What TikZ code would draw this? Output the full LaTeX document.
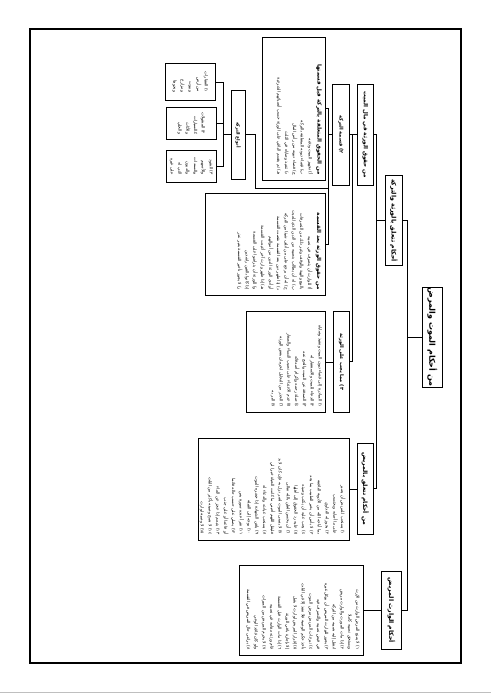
\documentclass[tikz,border=0pt]{standalone}
\usepackage{fontspec}
\newfontfamily\arabicfont[Script=Arabic]{DejaVu Sans}
\TeXXeTstate=1
\newcommand{\AR}[1]{\beginR#1\endR}
\newcommand{\btf}{\bfseries\fontsize{5.5}{7.8}\selectfont}
\tikzset{
  frame/.style={draw, line width=0.9pt, rotate=-90, inner sep=0pt},
  ttl/.style={font=\arabicfont\bfseries\fontsize{#1}{#1}\selectfont, align=center},
  body/.style={rotate=-90, anchor=north east, inner xsep=6pt, inner ysep=4pt,
    align=right, font=\arabicfont\fontsize{4.2}{7.8}\selectfont},
  leaf/.style={align=right, font=\arabicfont\fontsize{4.2}{7.8}\selectfont},
  conn/.style={line width=0.9pt},
}
\begin{document}
\begin{tikzpicture}[x=1pt,y=-1pt]
\useasboundingbox (0,0) rectangle (491,694);
\draw[line width=1.2pt] (30,29) rectangle (461,663);
\draw[black!25, line width=0.8pt] (0,692.5) -- (491,692.5);

% title boxes
\node[frame, ttl=8, minimum width=100.3pt, minimum height=20pt] (R) at (432.3,337.15) {\AR{من أحكام الموت والمرض}};
\node[frame, ttl=6.2, minimum width=89.3pt, minimum height=16.6pt] (G) at (394,220.35) {\AR{أحكام تتعلق بالورثة والتركة}};
\node[frame, ttl=5.6, minimum width=101.3pt, minimum height=15.8pt] (E) at (365.4,134.65) {\AR{من حقوق الورثة في مال الميت}};
\node[frame, ttl=5, minimum width=101.3pt, minimum height=16.6pt] (B) at (341,134.65) {\AR{٢) قسمة التركة}};
\node[frame, ttl=4.5, minimum width=88.3pt, minimum height=13.3pt] (M) at (238.35,134.85) {\AR{أنواع التركة}};
\node[frame, ttl=5, minimum width=101.7pt, minimum height=16pt] (D) at (341.3,361.85) {\AR{٣) مما يجب على الورثة}};
\node[frame, ttl=6, minimum width=91pt, minimum height=16pt] (J) at (365.3,488.8) {\AR{من أحكام تتعلق بالمريض}};
\node[frame, ttl=6.2, minimum width=77.3pt, minimum height=20.7pt] (H) at (391.35,610.35) {\AR{أحكام الوارث المريض}};

% leaf boxes
\node[frame, leaf, minimum width=37.4pt, minimum height=50.7pt] (L1) at (190.35,82) {\AR{١) العقارات}\\\AR{من أرض}\\\AR{وبيوت}\\\AR{ومزارع}\\\AR{ونحوها}};
\node[frame, leaf, minimum width=31.7pt, minimum height=50.7pt] (L2) at (191.35,123.15) {\AR{٢) المنقولات}\\\AR{كالسيارات}\\\AR{والأثاث}\\\AR{والحلي}};
\node[frame, leaf, minimum width=32.7pt, minimum height=50.7pt] (L3) at (191.35,166.35) {\AR{٣) النقود}\\\AR{والأسهم}\\\AR{والسندات}\\\AR{والديون}\\\AR{التي له}\\\AR{على غيره}};

% text boxes
\node[frame, minimum width=143.2pt, minimum height=62.8pt] (A) at (294.1,108.9) {};
\node[body] (At) at (A.north east) {{\btf\AR{من الحقوق المتعلقة بالتركة قبل قسمتها}}\\[1pt]
\AR{أ) تجهيز الميت ودفنه}\\
\AR{ب) قضاء ديونه المتعلقة بالتركة}\\
\AR{ج) قضاء ديونه من رأس المال}\\
\AR{د) تنفيذ وصاياه في الثلث}\\
\AR{هـ) ثم يقسم الباقي على الورثة حسب أنصبائهم الشرعية}};

\node[frame, minimum width=102.4pt, minimum height=120pt] (C) at (265,244.5) {};
\node[body] (Ct) at (C.north east) {{\btf\AR{من حقوق الورثة بعد القسمة}}\hspace{18pt}\\[1pt]
\AR{أ) للوارث أن يتصرف في نصيبه}\\
\AR{بالبيع والهبة والوقف وغير ذلك من التصرفات}\\
\AR{ب) له أن يطالب بنصيبه من الدين الذي للميت}\\
\AR{ج) له أن يرجع على من أتلف شيئا من التركة}\\
\AR{د) إذا ظهر دين بعد القسمة نقضت القسمة}\\
\AR{أو أدى الورثة الدين من أموالهم}\\
\AR{هـ) إذا ظهر وارث آخر أعيدت القسمة}\\
\AR{و) للورثة أن يتراضوا على القسمة}\\
\AR{إذا كانوا بالغين راشدين}\\
\AR{ز) لا يجوز تأخير القسمة بغير عذر}};

\node[frame, minimum width=101pt, minimum height=79pt] (F) at (286.2,362.2) {};
\node[body] (Ft) at (F.north east) {\AR{١) المبادرة إلى قضاء ديون الميت وتنفيذ وصاياه}\\
\AR{٢) الدعاء للميت والاستغفار له}\\
\AR{٣) الصدقة عن الميت والحج عنه}\\
\AR{٤) صلة رحمه وإكرام أصدقائه}\\
\AR{٥) عدم الاعتداء على نصيب النساء والصغار}\\
\AR{٦) الحذر من التحايل لحرمان بعض الورثة}\\
\AR{٧) البر به}};

\node[frame, minimum width=101.7pt, minimum height=151pt] (K) at (273.8,489.15) {};
\node[body] (Kt) at (K.north east) {\AR{١) يستحب للمريض أن يصبر}\\
\AR{على ما أصابه ويحتسب}\\
\AR{٢) يجوز له التداوي}\\
\AR{بما أباحه الله من الأدوية النافعة}\\
\AR{٣) لا بأس أن يخبر الطبيب بما يجد}\\
\AR{٤) يجب عليه أن يكتب وصيته}\\
\AR{٥) عليه رد الحقوق إلى أهلها}\\
\AR{٦) أن يحسن الظن بالله تعالى}\\
\AR{٧) لا يتمنى الموت لضر نزل به فإن كان لا بد}\\
\AR{فليقل اللهم أحيني ما كانت الحياة خيرا لي}\\
\AR{٨) يستحب عيادته والدعاء له}\\
\AR{٩) يلقن الشهادة إذا حضره الموت}\\
\AR{١٠) يوجه إلى القبلة}\\
\AR{١١) تقرأ عنده سورة يس}\\
\AR{١٢) يصلي على حسب حاله قائما}\\
\AR{أو قاعدا أو على جنب}\\
\AR{١٣) يتيمم إذا عجز عن الماء}\\
\AR{١٤) لا تصح وصيته بأكثر من الثلث}\\
\AR{١٥) لا وصية لوارث}};

\node[frame, minimum width=89.6pt, minimum height=124pt] (I) at (301.3,610.5) {};
\node[body] (It) at (I.north east) {\AR{١) لا يمنع المرض الوارث من الإرث}\\
\AR{ويستحق نصيبه كاملا}\\
\AR{٢) إذا مات المورث والوارث مريض}\\
\AR{انتقل إليه نصيبه من التركة}\\
\AR{٣) يجوز للوارث المريض أن يوكل غيره}\\
\AR{في قبض نصيبه والتصرف فيه}\\
\AR{٤) تبرعات المريض مرض الموت}\\
\AR{تأخذ حكم الوصية فلا تنفذ إلا في الثلث}\\
\AR{٥) إقرار المريض لوارث لا يقبل}\\
\AR{إلا بإجازة باقي الورثة}\\
\AR{٦) إذا مات الوارث قبل القسمة}\\
\AR{قام ورثته مقامه في نصيبه}\\
\AR{٧) لا يحرم المريض من الميراث}\\
\AR{ولو كان فاقد الوعي}\\
\AR{٨) يراعى حال المريض في القسمة}};

% connectors
\coordinate (Rb) at ([xshift=-14pt]R.south);
\draw[conn] (G.north) -| (Rb) -- (R.south);
\draw[conn] (H.north) -| (Rb);
\coordinate (Gb) at ([xshift=-8.4pt]G.south);
\draw[conn] (E.north) -| (Gb) -- (G.south);
\draw[conn] (J.north) -| (Gb);
\coordinate (Eb) at ([xshift=-4.2pt]E.south);
\draw[conn] (B.north) -| (Eb) -- (E.south);
\draw[conn] (D.north) -| (Eb);
\coordinate (Bb) at ([xshift=-3.4pt]B.south);
\draw[conn] (A.north) -| (Bb) -- (B.south);
\draw[conn] (C.north) -| (Bb);
\draw[conn] (M.north) -- ++(10pt,0) |- (Bb |- 0,188.3);
\coordinate (Mb) at ([xshift=-7.7pt]M.south);
\draw[conn] (L1.north) -| (Mb) -- (M.south);
\draw[conn] (L2.north) -| (Mb);
\draw[conn] (L3.north) -| (Mb);
\draw[conn] (F.north) -- (F.north -| D.south);
\draw[conn] (K.north) -- (K.north -| J.south);
\draw[conn] (I.north) -- (I.north -| H.south);
\end{tikzpicture}
\end{document}
